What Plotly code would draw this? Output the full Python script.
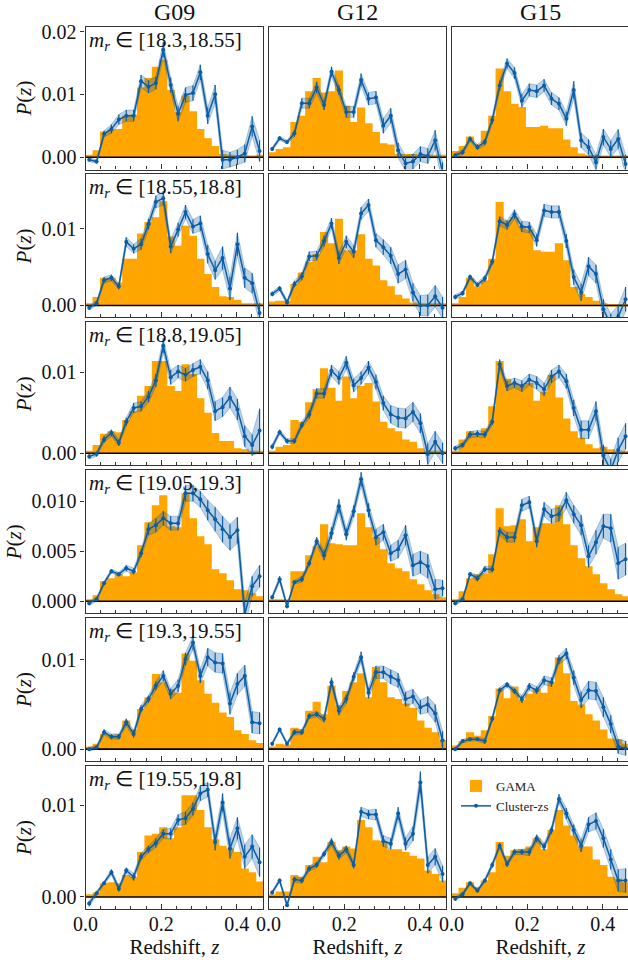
import plotly.graph_objects as go

# ---------------- data ----------------
fields = ["G09", "G12", "G15"]
mag_bins = ["[18.3,18.55]", "[18.55,18.8]", "[18.8,19.05]", "[19.05,19.3]", "[19.3,19.55]", "[19.55,19.8]"]
z_centers = [0.0098, 0.0294, 0.0490, 0.0685, 0.0881, 0.1077, 0.1273, 0.1469, 0.1665, 0.1860, 0.2056, 0.2252,
             0.2448, 0.2644, 0.2840, 0.3035, 0.3231, 0.3427, 0.3623, 0.3819, 0.4015, 0.4210, 0.4406, 0.4602]
bin_width = 0.01958
z_max = 0.47

x_ticks = [0.0, 0.2, 0.4]
x_tick_labels = ["0.0", "0.2", "0.4"]
y_ticks_rows = [[0, 0.01, 0.02], [0, 0.01], [0, 0.01], [0, 0.005, 0.01], [0, 0.01], [0, 0.01]]
y_tick_labels_rows = [["0.00", "0.01", "0.02"], ["0.00", "0.01"], ["0.00", "0.01"],
                      ["0.000", "0.005", "0.010"], ["0.00", "0.01"], ["0.00", "0.01"]]
y_ranges = [[-0.00196, 0.0208], [-0.00156, 0.0171], [-0.0015, 0.0162],
            [-0.0012, 0.0131], [-0.00134, 0.01467], [-0.00131, 0.01429]]

gama_g09 = [
    [0.0004, 0.0011, 0.0041, 0.0044, 0.0045, 0.0066, 0.0068, 0.0111, 0.0126, 0.0144, 0.0155, 0.0107, 0.0072, 0.0098, 0.0073, 0.0045, 0.0030, 0.0018, 0.0005, 0.0004, 0.0003, 0.0003, 0.0002, 0.0004],
    [0.0003, 0.0011, 0.0036, 0.0036, 0.0030, 0.0061, 0.0061, 0.0094, 0.0109, 0.0115, 0.0136, 0.0090, 0.0078, 0.0104, 0.0091, 0.0061, 0.0041, 0.0024, 0.0012, 0.0011, 0.0007, 0.0003, 0.0003, 0.0003],
    [0.0003, 0.0010, 0.0024, 0.0027, 0.0026, 0.0041, 0.0052, 0.0071, 0.0083, 0.0114, 0.0114, 0.0083, 0.0077, 0.0110, 0.0098, 0.0068, 0.0050, 0.0025, 0.0015, 0.0015, 0.0006, 0.0005, 0.0003, 0.0003],
    [0.0002, 0.0006, 0.0020, 0.0023, 0.0027, 0.0025, 0.0029, 0.0056, 0.0079, 0.0096, 0.0106, 0.0075, 0.0074, 0.0108, 0.0083, 0.0065, 0.0057, 0.0032, 0.0028, 0.0021, 0.0012, 0.0011, 0.0008, 0.0005],
    [0.0003, 0.0006, 0.0017, 0.0016, 0.0017, 0.0032, 0.0022, 0.0045, 0.0058, 0.0084, 0.0075, 0.0067, 0.0063, 0.0107, 0.0099, 0.0077, 0.0062, 0.0052, 0.0041, 0.0036, 0.0021, 0.0017, 0.0010, 0.0007],
    [0.0003, 0.0005, 0.0015, 0.0016, 0.0015, 0.0024, 0.0022, 0.0049, 0.0067, 0.0069, 0.0076, 0.0064, 0.0076, 0.0111, 0.0111, 0.0095, 0.0076, 0.0063, 0.0056, 0.0053, 0.0049, 0.0031, 0.0027, 0.0017],
]
czs_g09 = [
    [-0.0004, -0.0007, 0.0037, 0.0045, 0.0060, 0.0066, 0.0066, 0.0121, 0.0112, 0.0118, 0.0171, 0.0115, 0.0069, 0.0099, 0.0102, 0.0135, 0.0066, 0.0100, -0.0004, -0.0004, 0.0000, 0.0006, 0.0049, 0.0010],
    [-0.0003, 0.0003, 0.0033, 0.0036, 0.0025, 0.0083, 0.0074, 0.0080, 0.0106, 0.0135, 0.0140, 0.0077, 0.0099, 0.0122, 0.0103, 0.0107, 0.0067, 0.0046, 0.0062, 0.0022, 0.0080, 0.0036, 0.0029, -0.0010],
    [-0.0004, -0.0001, 0.0017, 0.0025, 0.0013, 0.0039, 0.0056, 0.0058, 0.0070, 0.0090, 0.0133, 0.0094, 0.0101, 0.0097, 0.0103, 0.0107, 0.0090, 0.0052, 0.0057, 0.0069, 0.0054, 0.0021, 0.0010, 0.0028],
    [-0.0002, 0.0002, 0.0018, 0.0030, 0.0027, 0.0033, 0.0030, 0.0048, 0.0072, 0.0076, 0.0083, 0.0078, 0.0078, 0.0108, 0.0108, 0.0102, 0.0091, 0.0082, 0.0072, 0.0064, 0.0071, -0.0013, 0.0015, 0.0025],
    [0.0000, 0.0002, 0.0019, 0.0014, 0.0014, 0.0030, 0.0017, 0.0045, 0.0056, 0.0071, 0.0082, 0.0062, 0.0071, 0.0101, 0.0119, 0.0082, 0.0103, 0.0097, 0.0096, 0.0051, 0.0073, 0.0082, 0.0030, 0.0029],
    [-0.0007, 0.0004, 0.0015, 0.0027, 0.0009, 0.0029, 0.0022, 0.0044, 0.0052, 0.0059, 0.0069, 0.0069, 0.0084, 0.0086, 0.0096, 0.0113, 0.0117, 0.0060, 0.0103, 0.0053, 0.0075, 0.0044, 0.0055, 0.0038],
]
err_g09 = [
    [0.0003, 0.0003, 0.0005, 0.0007, 0.0008, 0.0009, 0.0009, 0.0010, 0.0010, 0.0010, 0.0012, 0.0012, 0.0012, 0.0012, 0.0012, 0.0012, 0.0013, 0.0015, 0.0015, 0.0012, 0.0012, 0.0014, 0.0016, 0.0017],
    [0.0003, 0.0003, 0.0004, 0.0004, 0.0004, 0.0006, 0.0006, 0.0007, 0.0007, 0.0008, 0.0009, 0.0009, 0.0009, 0.0009, 0.0009, 0.0010, 0.0012, 0.0012, 0.0015, 0.0015, 0.0015, 0.0013, 0.0013, 0.0013],
    [0.0003, 0.0003, 0.0004, 0.0004, 0.0004, 0.0005, 0.0006, 0.0006, 0.0007, 0.0008, 0.0009, 0.0009, 0.0008, 0.0008, 0.0008, 0.0009, 0.0011, 0.0012, 0.0012, 0.0013, 0.0013, 0.0013, 0.0013, 0.0027],
    [0.0002, 0.0002, 0.0002, 0.0002, 0.0002, 0.0003, 0.0003, 0.0004, 0.0006, 0.0007, 0.0007, 0.0007, 0.0007, 0.0008, 0.0008, 0.0008, 0.0010, 0.0012, 0.0013, 0.0013, 0.0013, 0.0012, 0.0010, 0.0011],
    [0.0002, 0.0002, 0.0003, 0.0003, 0.0003, 0.0004, 0.0004, 0.0004, 0.0004, 0.0005, 0.0006, 0.0006, 0.0007, 0.0007, 0.0008, 0.0008, 0.0010, 0.0011, 0.0011, 0.0012, 0.0012, 0.0012, 0.0012, 0.0012],
    [0.0003, 0.0002, 0.0002, 0.0003, 0.0003, 0.0003, 0.0004, 0.0004, 0.0004, 0.0005, 0.0005, 0.0006, 0.0006, 0.0007, 0.0007, 0.0008, 0.0008, 0.0009, 0.0010, 0.0011, 0.0012, 0.0013, 0.0013, 0.0016],
]

gama_g12 = [
    [0.0008, 0.0013, 0.0016, 0.0056, 0.0066, 0.0105, 0.0126, 0.0103, 0.0105, 0.0138, 0.0082, 0.0056, 0.0079, 0.0054, 0.0040, 0.0022, 0.0020, 0.0005, 0.0005, 0.0005, 0.0004, 0.0004, 0.0004, 0.0004],
    [0.0005, 0.0006, 0.0006, 0.0028, 0.0043, 0.0057, 0.0067, 0.0096, 0.0081, 0.0113, 0.0072, 0.0072, 0.0093, 0.0061, 0.0052, 0.0033, 0.0025, 0.0014, 0.0009, 0.0004, 0.0003, 0.0003, 0.0003, 0.0003],
    [0.0003, 0.0008, 0.0010, 0.0041, 0.0039, 0.0063, 0.0079, 0.0105, 0.0081, 0.0065, 0.0095, 0.0068, 0.0083, 0.0087, 0.0064, 0.0039, 0.0031, 0.0027, 0.0017, 0.0014, 0.0006, 0.0003, 0.0003, 0.0003],
    [0.0002, 0.0002, 0.0002, 0.0030, 0.0030, 0.0046, 0.0055, 0.0077, 0.0058, 0.0057, 0.0056, 0.0056, 0.0088, 0.0074, 0.0064, 0.0052, 0.0038, 0.0033, 0.0030, 0.0022, 0.0017, 0.0011, 0.0007, 0.0004],
    [0.0003, 0.0006, 0.0005, 0.0024, 0.0022, 0.0043, 0.0053, 0.0039, 0.0071, 0.0049, 0.0065, 0.0075, 0.0085, 0.0058, 0.0092, 0.0075, 0.0058, 0.0056, 0.0051, 0.0046, 0.0032, 0.0024, 0.0019, 0.0010],
    [0.0003, 0.0006, 0.0006, 0.0024, 0.0022, 0.0035, 0.0044, 0.0038, 0.0060, 0.0051, 0.0055, 0.0053, 0.0084, 0.0076, 0.0062, 0.0061, 0.0052, 0.0052, 0.0049, 0.0045, 0.0042, 0.0029, 0.0025, 0.0018],
]
czs_g12 = [
    [0.0013, 0.0030, 0.0024, 0.0038, 0.0086, 0.0086, 0.0111, 0.0083, 0.0136, 0.0107, 0.0072, 0.0072, 0.0123, 0.0093, 0.0095, 0.0050, 0.0066, 0.0011, -0.0010, -0.0007, 0.0005, 0.0002, 0.0027, -0.0024],
    [0.0015, 0.0022, 0.0004, 0.0028, 0.0038, 0.0064, 0.0065, 0.0084, 0.0107, 0.0062, 0.0083, 0.0070, 0.0120, 0.0131, 0.0085, 0.0076, 0.0065, 0.0041, 0.0047, 0.0017, 0.0000, 0.0000, 0.0012, -0.0003],
    [0.0008, 0.0026, 0.0015, 0.0015, 0.0035, 0.0048, 0.0074, 0.0074, 0.0102, 0.0093, 0.0112, 0.0084, 0.0093, 0.0106, 0.0088, 0.0062, 0.0048, 0.0044, 0.0043, 0.0051, 0.0037, -0.0001, 0.0014, 0.0000],
    [0.0004, 0.0022, -0.0005, 0.0019, 0.0022, 0.0038, 0.0060, 0.0046, 0.0068, 0.0095, 0.0067, 0.0090, 0.0122, 0.0091, 0.0064, 0.0069, 0.0048, 0.0052, 0.0066, 0.0036, 0.0039, 0.0035, 0.0012, 0.0013],
    [0.0006, 0.0022, 0.0006, 0.0019, 0.0019, 0.0037, 0.0039, 0.0034, 0.0075, 0.0043, 0.0056, 0.0081, 0.0103, 0.0063, 0.0086, 0.0086, 0.0081, 0.0077, 0.0056, 0.0059, 0.0047, 0.0050, 0.0040, 0.0010],
    [0.0005, 0.0018, -0.0009, 0.0019, 0.0018, 0.0031, 0.0035, 0.0047, 0.0060, 0.0045, 0.0052, 0.0035, 0.0093, 0.0090, 0.0090, 0.0061, 0.0058, 0.0091, 0.0058, 0.0069, 0.0125, 0.0035, 0.0044, 0.0025],
]
err_g12 = [
    [0.0003, 0.0003, 0.0003, 0.0005, 0.0008, 0.0008, 0.0009, 0.0008, 0.0008, 0.0008, 0.0009, 0.0009, 0.0010, 0.0010, 0.0010, 0.0012, 0.0012, 0.0012, 0.0012, 0.0012, 0.0012, 0.0012, 0.0016, 0.0016],
    [0.0003, 0.0003, 0.0003, 0.0004, 0.0005, 0.0006, 0.0006, 0.0007, 0.0007, 0.0008, 0.0008, 0.0008, 0.0008, 0.0008, 0.0009, 0.0010, 0.0011, 0.0012, 0.0012, 0.0012, 0.0013, 0.0014, 0.0014, 0.0014],
    [0.0003, 0.0003, 0.0003, 0.0003, 0.0004, 0.0005, 0.0006, 0.0006, 0.0007, 0.0008, 0.0008, 0.0008, 0.0008, 0.0008, 0.0009, 0.0009, 0.0011, 0.0012, 0.0012, 0.0012, 0.0012, 0.0013, 0.0013, 0.0013],
    [0.0002, 0.0003, 0.0002, 0.0002, 0.0003, 0.0003, 0.0004, 0.0005, 0.0006, 0.0007, 0.0006, 0.0006, 0.0007, 0.0007, 0.0008, 0.0008, 0.0008, 0.0009, 0.0010, 0.0011, 0.0011, 0.0012, 0.0010, 0.0008],
    [0.0002, 0.0002, 0.0002, 0.0003, 0.0003, 0.0003, 0.0003, 0.0004, 0.0005, 0.0005, 0.0005, 0.0005, 0.0006, 0.0006, 0.0007, 0.0007, 0.0008, 0.0008, 0.0008, 0.0008, 0.0008, 0.0009, 0.0010, 0.0010],
    [0.0002, 0.0002, 0.0002, 0.0003, 0.0003, 0.0003, 0.0003, 0.0003, 0.0004, 0.0004, 0.0004, 0.0004, 0.0005, 0.0005, 0.0006, 0.0006, 0.0006, 0.0007, 0.0007, 0.0008, 0.0012, 0.0009, 0.0009, 0.0009],
]

gama_g15 = [
    [0.0010, 0.0018, 0.0033, 0.0020, 0.0042, 0.0066, 0.0141, 0.0105, 0.0085, 0.0080, 0.0048, 0.0048, 0.0050, 0.0046, 0.0046, 0.0028, 0.0016, 0.0006, 0.0004, 0.0003, 0.0002, 0.0002, 0.0002, 0.0002],
    [0.0003, 0.0011, 0.0036, 0.0025, 0.0033, 0.0061, 0.0135, 0.0111, 0.0115, 0.0104, 0.0099, 0.0072, 0.0070, 0.0070, 0.0081, 0.0059, 0.0024, 0.0015, 0.0011, 0.0006, 0.0003, 0.0002, 0.0002, 0.0002],
    [0.0003, 0.0017, 0.0027, 0.0025, 0.0031, 0.0058, 0.0114, 0.0092, 0.0087, 0.0085, 0.0087, 0.0065, 0.0076, 0.0097, 0.0069, 0.0043, 0.0027, 0.0019, 0.0011, 0.0006, 0.0008, 0.0005, 0.0003, 0.0003],
    [0.0002, 0.0010, 0.0023, 0.0027, 0.0028, 0.0047, 0.0093, 0.0075, 0.0076, 0.0082, 0.0060, 0.0074, 0.0078, 0.0078, 0.0096, 0.0077, 0.0056, 0.0043, 0.0035, 0.0027, 0.0018, 0.0012, 0.0007, 0.0005],
    [0.0004, 0.0009, 0.0019, 0.0015, 0.0021, 0.0037, 0.0068, 0.0057, 0.0070, 0.0055, 0.0062, 0.0068, 0.0063, 0.0075, 0.0103, 0.0085, 0.0054, 0.0050, 0.0039, 0.0032, 0.0022, 0.0012, 0.0011, 0.0006],
    [0.0004, 0.0010, 0.0016, 0.0011, 0.0018, 0.0027, 0.0060, 0.0045, 0.0051, 0.0052, 0.0055, 0.0064, 0.0052, 0.0073, 0.0095, 0.0078, 0.0067, 0.0055, 0.0055, 0.0041, 0.0035, 0.0022, 0.0020, 0.0016],
]
czs_g15 = [
    [0.0003, 0.0008, 0.0029, 0.0016, 0.0024, 0.0059, 0.0114, 0.0149, 0.0134, 0.0090, 0.0107, 0.0105, 0.0114, 0.0093, 0.0085, 0.0061, 0.0107, 0.0027, 0.0016, -0.0008, 0.0032, 0.0013, 0.0029, -0.0011],
    [0.0011, 0.0016, 0.0037, 0.0027, 0.0035, 0.0057, 0.0110, 0.0105, 0.0119, 0.0103, 0.0102, 0.0085, 0.0124, 0.0122, 0.0122, 0.0084, 0.0037, 0.0017, 0.0051, 0.0041, -0.0005, -0.0025, -0.0015, 0.0008],
    [0.0006, 0.0010, 0.0023, 0.0024, 0.0023, 0.0039, 0.0110, 0.0083, 0.0087, 0.0083, 0.0091, 0.0087, 0.0079, 0.0095, 0.0101, 0.0089, 0.0056, 0.0029, 0.0029, 0.0052, -0.0003, -0.0021, 0.0004, 0.0021],
    [-0.0002, 0.0002, 0.0027, 0.0023, 0.0032, 0.0032, 0.0070, 0.0064, 0.0064, 0.0096, 0.0099, 0.0060, 0.0092, 0.0085, 0.0087, 0.0101, 0.0087, 0.0076, 0.0045, 0.0059, 0.0075, 0.0073, 0.0038, 0.0042],
    [0.0000, 0.0009, 0.0011, 0.0011, 0.0009, 0.0034, 0.0066, 0.0072, 0.0065, 0.0056, 0.0070, 0.0066, 0.0077, 0.0075, 0.0100, 0.0107, 0.0080, 0.0055, 0.0066, 0.0065, 0.0047, 0.0028, 0.0003, 0.0001],
    [-0.0002, 0.0003, 0.0015, 0.0007, 0.0018, 0.0035, 0.0056, 0.0036, 0.0049, 0.0049, 0.0049, 0.0064, 0.0055, 0.0073, 0.0107, 0.0091, 0.0073, 0.0056, 0.0079, 0.0083, 0.0064, 0.0041, 0.0018, 0.0018],
]
err_g15 = [
    [0.0003, 0.0004, 0.0004, 0.0004, 0.0005, 0.0006, 0.0008, 0.0008, 0.0009, 0.0010, 0.0010, 0.0010, 0.0010, 0.0010, 0.0010, 0.0011, 0.0014, 0.0012, 0.0012, 0.0012, 0.0013, 0.0013, 0.0015, 0.0015],
    [0.0003, 0.0003, 0.0003, 0.0003, 0.0004, 0.0004, 0.0006, 0.0006, 0.0006, 0.0007, 0.0007, 0.0008, 0.0008, 0.0008, 0.0008, 0.0009, 0.0010, 0.0011, 0.0012, 0.0012, 0.0013, 0.0014, 0.0015, 0.0016],
    [0.0003, 0.0003, 0.0004, 0.0004, 0.0004, 0.0004, 0.0006, 0.0006, 0.0006, 0.0007, 0.0007, 0.0008, 0.0008, 0.0008, 0.0008, 0.0009, 0.0010, 0.0011, 0.0011, 0.0012, 0.0013, 0.0014, 0.0015, 0.0016],
    [0.0002, 0.0002, 0.0002, 0.0003, 0.0003, 0.0003, 0.0004, 0.0005, 0.0005, 0.0006, 0.0006, 0.0006, 0.0007, 0.0007, 0.0007, 0.0008, 0.0009, 0.0010, 0.0011, 0.0012, 0.0012, 0.0014, 0.0016, 0.0016],
    [0.0002, 0.0002, 0.0002, 0.0002, 0.0003, 0.0003, 0.0003, 0.0003, 0.0003, 0.0004, 0.0004, 0.0004, 0.0005, 0.0005, 0.0005, 0.0006, 0.0008, 0.0009, 0.0010, 0.0010, 0.0011, 0.0010, 0.0008, 0.0008],
    [0.0002, 0.0002, 0.0002, 0.0002, 0.0002, 0.0003, 0.0003, 0.0003, 0.0003, 0.0003, 0.0004, 0.0004, 0.0004, 0.0004, 0.0005, 0.0006, 0.0006, 0.0007, 0.0008, 0.0009, 0.0010, 0.0011, 0.0012, 0.0013],
]

gama_all = [gama_g09, gama_g12, gama_g15]
czs_all = [czs_g09, czs_g12, czs_g15]
err_all = [err_g09, err_g12, err_g15]

# ---------------- style / layout ----------------
# The figure is a bit wider than the 628px window so the right-hand panel is clipped
# at the window edge, as in the reference.
W, H = 636, 960
FONT = "Liberation Serif"
ORANGE = "#FFA500"
BLUE = "#0C5DA5"
BAND = "rgba(12,93,165,0.28)"
BAND_EDGE = "rgba(12,93,165,0.35)"
FRAME = "#333333"
TXT = "#111111"

col_left = [85.5, 268.5, 451.5]
panel_w = 177.8
row_top = [26.5 + 147.9 * r for r in range(6)]
panel_h = 143.0

fig = go.Figure()
layout = dict(
    width=W, height=H,
    margin=dict(l=0, r=0, t=0, b=0, autoexpand=False),
    paper_bgcolor="white", plot_bgcolor="white",
    font=dict(family=FONT, size=20, color=TXT),
    showlegend=True,
    legend=dict(x=456 / W, y=1 - 771 / H, xanchor="left", yanchor="top",
                bgcolor="rgba(0,0,0,0)", font=dict(family=FONT, size=13, color="#222"),
                tracegroupgap=0, traceorder="normal", itemwidth=30),
)
annotations = []

for r in range(6):
    for c in range(3):
        n = r * 3 + c + 1
        xa = "x" if n == 1 else f"x{n}"
        ya = "y" if n == 1 else f"y{n}"
        gama = gama_all[c][r]
        czs = czs_all[c][r]
        err = err_all[c][r]
        lower = [v - e for v, e in zip(czs, err)]
        upper = [v + e for v, e in zip(czs, err)]
        legend_panel = (r == 5 and c == 2)

        fig.add_trace(go.Bar(x=z_centers, y=gama, width=bin_width * 1.1,
                             marker=dict(color=ORANGE, line=dict(width=0)),
                             name="GAMA", showlegend=legend_panel, legendrank=1, xaxis=xa, yaxis=ya))
        fig.add_trace(go.Scatter(x=[0, z_max], y=[0, 0], mode="lines", line=dict(color="black", width=1.6),
                                 showlegend=False, hoverinfo="skip", xaxis=xa, yaxis=ya))
        fig.add_trace(go.Scatter(x=z_centers, y=lower, mode="lines", line=dict(color=BAND_EDGE, width=0.8),
                                 showlegend=False, hoverinfo="skip", xaxis=xa, yaxis=ya))
        fig.add_trace(go.Scatter(x=z_centers, y=upper, mode="lines", line=dict(color=BAND_EDGE, width=0.8),
                                 fill="tonexty", fillcolor=BAND,
                                 showlegend=False, hoverinfo="skip", xaxis=xa, yaxis=ya))
        fig.add_trace(go.Scatter(x=z_centers, y=czs, mode="lines+markers", name="Cluster-zs",
                                 line=dict(color=BLUE, width=1.5), marker=dict(color=BLUE, size=4),
                                 error_y=dict(type="data", array=err, color=BLUE, thickness=1.2, width=0),
                                 showlegend=legend_panel, legendrank=2, xaxis=xa, yaxis=ya))

        x0 = col_left[c]
        x1 = x0 + panel_w
        top = row_top[r]
        bot = top + panel_h
        key = "" if n == 1 else str(n)
        xaxis = dict(
            domain=[x0 / W, x1 / W], range=[0, z_max], anchor=ya, automargin=False,
            tickmode="array", tickvals=x_ticks, ticktext=x_tick_labels,
            ticks="inside", ticklen=5, tickwidth=1, tickcolor=FRAME,
            minor=dict(dtick=0.04, tick0=0, ticks="inside", ticklen=3, tickwidth=1, tickcolor=FRAME),
            showticklabels=(r == 5), tickfont=dict(family=FONT, size=20, color=TXT),
            ticklabelstandoff=-3,
            showline=True, mirror=True, linecolor=FRAME, linewidth=1.2,
            showgrid=False, zeroline=False,
        )
        if r == 5:
            xaxis["title"] = dict(text="Redshift, <i>z</i>", font=dict(family=FONT, size=21, color=TXT), standoff=0)
        yaxis = dict(
            domain=[1 - bot / H, 1 - top / H], range=y_ranges[r], anchor=xa, automargin=False,
            tickmode="array", tickvals=y_ticks_rows[r], ticktext=y_tick_labels_rows[r],
            ticks="outside" if c == 0 else "", ticklen=4, tickwidth=1, tickcolor=FRAME,
            showticklabels=(c == 0), tickfont=dict(family=FONT, size=20, color=TXT),
            showline=True, mirror=True, linecolor=FRAME, linewidth=1.2,
            showgrid=False, zeroline=False,
        )
        if c == 0:
            yaxis["title"] = dict(text="<i>P</i>(<i>z</i>)", font=dict(family=FONT, size=21, color=TXT), standoff=4)
        layout["xaxis" + key] = xaxis
        layout["yaxis" + key] = yaxis
        if c == 0:
            annotations.append(dict(
                xref="paper", yref="paper", x=(x0 + 1) / W, y=1 - (top - 1) / H,
                xanchor="left", yanchor="top", showarrow=False,
                text="<i>m</i><sub><i>r</i></sub> \u2208 " + mag_bins[r],
                font=dict(family=FONT, size=21, color=TXT),
            ))

for c in range(3):
    x0 = col_left[c]
    annotations.append(dict(
        xref="paper", yref="paper", x=(x0 + panel_w / 2) / W, y=1 - 12 / H,
        xanchor="center", yanchor="middle", showarrow=False,
        text=fields[c], font=dict(family=FONT, size=24, color=TXT),
    ))

layout["annotations"] = annotations
fig.update_layout(**layout)
fig.write_html(
    "out.html",
    config={"displayModeBar": False},
    post_script=(
        "document.documentElement.style.margin='0';"
        "document.body.style.margin='0';"
        "document.documentElement.style.overflow='hidden';"
        "document.body.style.overflow='hidden';"
    ),
)
